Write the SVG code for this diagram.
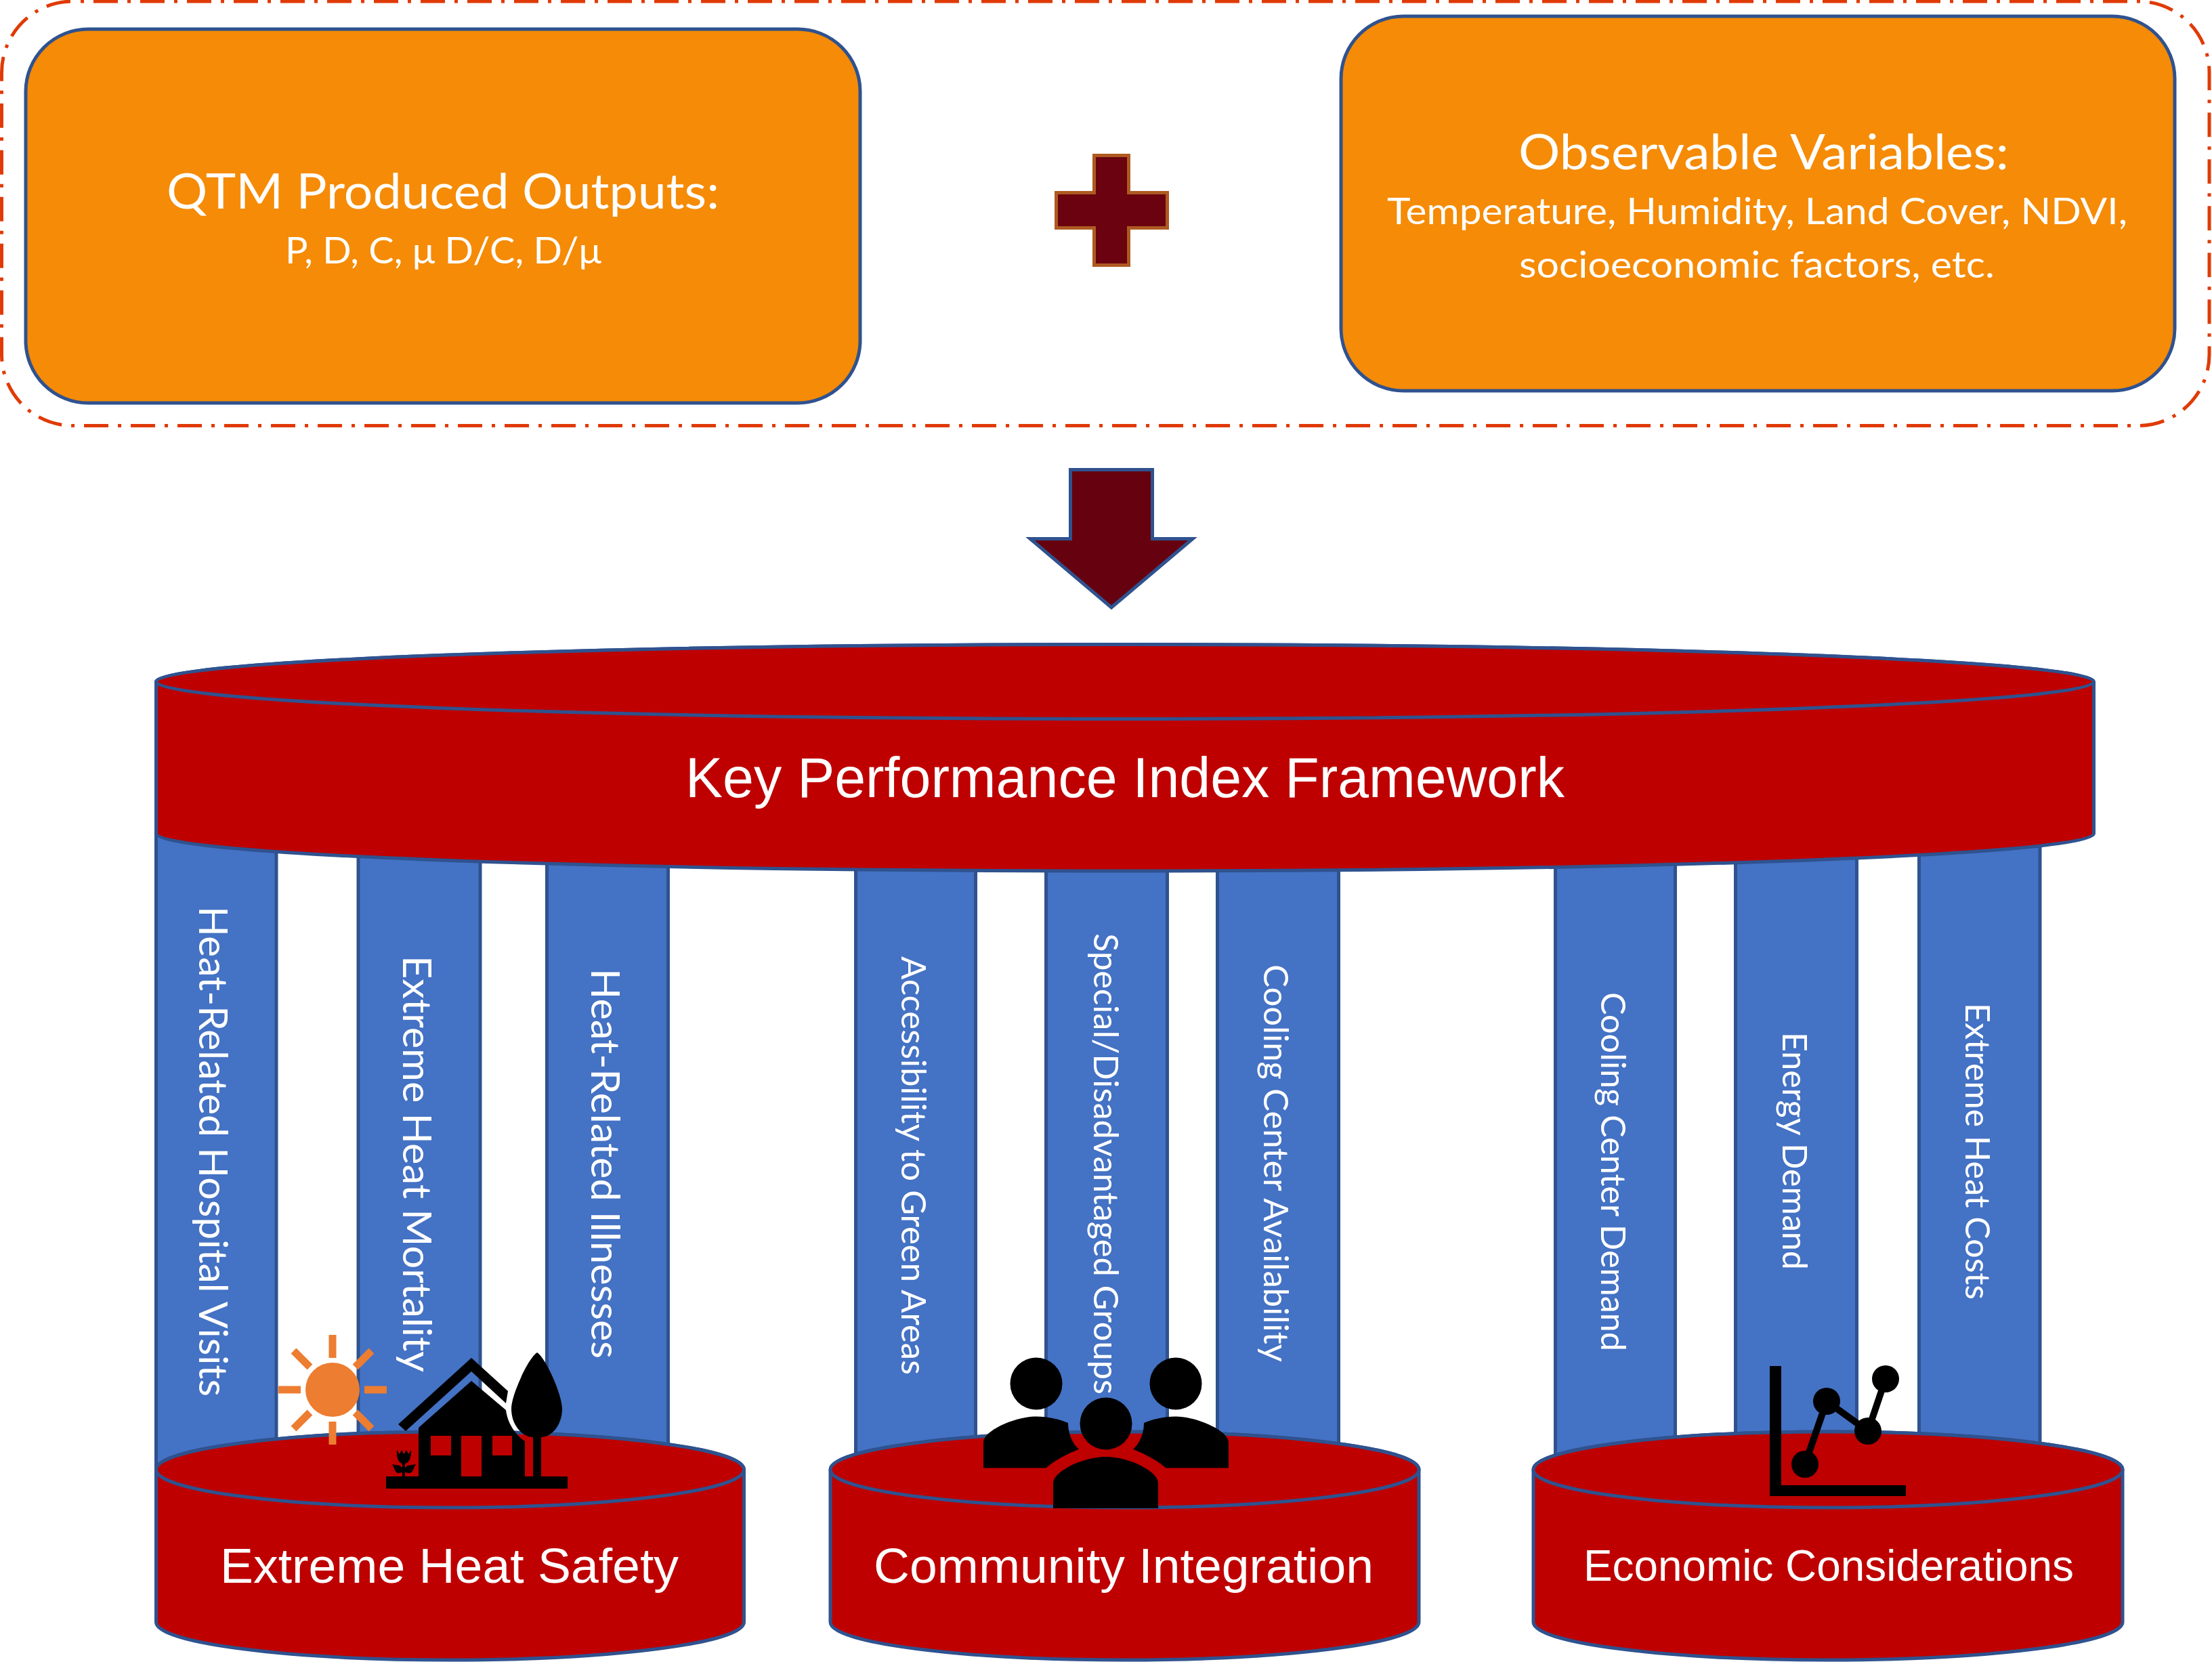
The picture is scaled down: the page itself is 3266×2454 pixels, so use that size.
<svg xmlns="http://www.w3.org/2000/svg" width="3266" height="2454" viewBox="0 0 3266 2454">
<style>
.box{fill:#F58B06;stroke:#2F528F;stroke-width:5}
.red{fill:#BE0000;stroke:#2F528F;stroke-width:5}
.pillar{fill:#4472C4;stroke:#2F528F;stroke-width:5}
.frame{fill:none;stroke:#E03A06;stroke-width:5;stroke-dasharray:36 14 5 14;stroke-dashoffset:38.5}
.c{font-family:"Lato","Noto Sans",sans-serif;fill:#fff}
.a{font-family:"Liberation Sans",Arial,sans-serif;fill:#fff}
.ray{stroke:#ED7D31;stroke-width:11;fill:none}
.k{fill:#000}
</style>
<rect width="3266" height="2454" fill="#fff"/>
<g id="outputs-frame"><rect class="frame" x="2.500" y="2" width="3259.500" height="626.500" rx="105" ry="105"/></g>
<g id="qtm-outputs">
<rect class="box" x="38" y="43" width="1232" height="552" rx="92" ry="92"/>
<text class="c" x="246" y="308" font-size="72" textLength="816" lengthAdjust="spacingAndGlyphs">QTM Produced Outputs:</text>
<text class="c" x="421" y="389" font-size="54" textLength="467" lengthAdjust="spacingAndGlyphs">P, D, C, μ D/C, D/μ</text>
</g>
<g id="plus"><path d="M1615.500 229.500H1666.500V284.500H1723.500V336.500H1666.500V391.500H1615.500V336.500H1559.500V284.500H1615.500Z" fill="#6A020F" stroke="#AE5A21" stroke-width="5"/></g>
<g id="observable-variables">
<rect class="box" x="1980" y="24" width="1231" height="553" rx="92" ry="92"/>
<text class="c" x="2242" y="250" font-size="72" textLength="724" lengthAdjust="spacingAndGlyphs">Observable Variables:</text>
<text class="c" x="2048" y="331" font-size="54" textLength="1093" lengthAdjust="spacingAndGlyphs">Temperature, Humidity, Land Cover, NDVI,</text>
<text class="c" x="2243" y="410" font-size="54" textLength="702" lengthAdjust="spacingAndGlyphs">socioeconomic factors, etc.</text>
</g>
<g id="connectors"><path d="M1580.500 693.500H1701.500V795.500H1761L1641 897 1521 795.500H1580.500Z" fill="#66020F" stroke="#2F528F" stroke-width="5"/></g>
<g id="pillars">
<g id="pillar-hospital-visits"><rect class="pillar" x="230.500" y="1200" width="177.500" height="1000"/><text class="c" transform="translate(293.500 1338) rotate(90)" font-size="58" textLength="724" lengthAdjust="spacingAndGlyphs">Heat-Related Hospital Visits</text></g>
<g id="pillar-mortality"><rect class="pillar" x="529" y="1200" width="180" height="1000"/><text class="c" transform="translate(595 1411) rotate(90)" font-size="58" textLength="615" lengthAdjust="spacingAndGlyphs">Extreme Heat Mortality</text></g>
<g id="pillar-illnesses"><rect class="pillar" x="807.500" y="1200" width="179" height="1000"/><text class="c" transform="translate(873 1430) rotate(90)" font-size="58" textLength="576" lengthAdjust="spacingAndGlyphs">Heat-Related Illnesses</text></g>
<g id="pillar-green-areas"><rect class="pillar" x="1263.500" y="1200" width="177" height="1000"/><text class="c" transform="translate(1331 1412) rotate(90)" font-size="51" textLength="618" lengthAdjust="spacingAndGlyphs">Accessibility to Green Areas</text></g>
<g id="pillar-groups"><rect class="pillar" x="1544.500" y="1200" width="179" height="1000"/><text class="c" transform="translate(1615 1378) rotate(90)" font-size="51" textLength="681" lengthAdjust="spacingAndGlyphs">Special/Disadvantaged Groups</text></g>
<g id="pillar-cooling-availability"><rect class="pillar" x="1797.500" y="1200" width="179" height="1000"/><text class="c" transform="translate(1866 1424) rotate(90)" font-size="51" textLength="587" lengthAdjust="spacingAndGlyphs">Cooling Center Availability</text></g>
<g id="pillar-cooling-demand"><rect class="pillar" x="2296.500" y="1200" width="177" height="1000"/><text class="c" transform="translate(2364 1465) rotate(90)" font-size="51" textLength="530" lengthAdjust="spacingAndGlyphs">Cooling Center Demand</text></g>
<g id="pillar-energy-demand"><rect class="pillar" x="2562.500" y="1200" width="179" height="1000"/><text class="c" transform="translate(2631.500 1524) rotate(90)" font-size="51" textLength="351" lengthAdjust="spacingAndGlyphs">Energy Demand</text></g>
<g id="pillar-heat-costs"><rect class="pillar" x="2833.500" y="1200" width="178.500" height="1000"/><text class="c" transform="translate(2902 1481) rotate(90)" font-size="51" textLength="438" lengthAdjust="spacingAndGlyphs">Extreme Heat Costs</text></g>
</g>
<g id="kpi-framework">
<path class="red" d="M230.500 1006.500A1430.500 55 0 0 1 3091.500 1006.500V1231A1430.500 55 0 0 1 230.500 1231Z"/>
<ellipse class="red" cx="1661" cy="1006.500" rx="1430.500" ry="55"/>
<text class="a" x="1012" y="1177" font-size="83" textLength="1298" lengthAdjust="spacingAndGlyphs">Key Performance Index Framework</text>
</g>
<g id="extreme-heat-safety">
<path class="red" d="M230.500 2170A434 56 0 0 1 1098.500 2170V2395A434 56 0 0 1 230.500 2395Z"/>
<ellipse class="red" cx="664.500" cy="2170" rx="434" ry="56"/>
<text class="a" x="325" y="2337" font-size="72" textLength="677" lengthAdjust="spacingAndGlyphs">Extreme Heat Safety</text>
<g id="sun-icon">
<circle cx="491" cy="2052" r="40" fill="#ED7D31"/>
<path class="ray" d="M491 1971V2005M491 2099V2133M411 2052H444M538 2052H571M433.500 1994.500L457.500 2018.500M548.500 1994.500L524.500 2018.500M433.500 2109.500L457.500 2085.500M548.500 2109.500L524.500 2085.500"/>
</g>
<g id="house-icon">
<path class="k" d="M696 2005L750 2054 747 2072 696 2025 599 2113 588 2103Z"/>
<path class="k" fill-rule="evenodd" d="M696 2039L747 2082C749 2100 760 2118 775 2128V2180H838V2198H570V2180H618V2108ZM636 2120V2149H666V2120ZM681 2120V2180H711V2120ZM727 2120V2149H756V2120Z"/>
<path class="k" d="M793 1997C780 2005 755 2060 755 2080C755 2105 772 2122 787 2122V2180H799V2122C814 2122 830 2105 830 2080C830 2060 806 2005 793 1997Z"/>
<path class="k" d="M586 2141L590 2147 593 2141 596.500 2147 600 2141 603 2147 607 2141C608 2152 603 2161 598 2161V2167L602 2164 614 2162C610 2168 610 2175 604 2175L598 2174V2180H594V2174L588 2175C583 2175 583 2168 579 2162L590 2164 594 2167V2161C589 2161 585 2152 586 2141Z"/>
</g>
</g>
<g id="community-integration">
<path class="red" d="M1226 2170A434.500 56 0 0 1 2095 2170V2395A434.500 56 0 0 1 1226 2395Z"/>
<ellipse class="red" cx="1660.500" cy="2170" rx="434.500" ry="56"/>
<text class="a" x="1290" y="2337" font-size="72" textLength="738" lengthAdjust="spacingAndGlyphs">Community Integration</text>
<g id="people-icon">
<circle class="k" cx="1530" cy="2043" r="38.500"/>
<circle class="k" cx="1736" cy="2043" r="38.500"/>
<circle class="k" cx="1633" cy="2102" r="38.500"/>
<path class="k" d="M1555 2227V2190C1555 2172 1600 2151 1633 2151C1666 2151 1710 2172 1710 2190V2227Z"/>
<path class="k" d="M1452 2167.500V2130C1452 2112 1500 2091.500 1530 2091.500C1548 2091.500 1566 2096 1577 2101C1577 2115 1582 2130 1593 2140C1572 2148 1552 2160 1545 2167.500Z"/>
<path class="k" d="M1814 2167.500V2130C1814 2112 1766 2091.500 1736 2091.500C1718 2091.500 1700 2096 1689 2101C1689 2115 1684 2130 1673 2140C1694 2148 1714 2160 1721 2167.500Z"/>
</g>
</g>
<g id="economic-considerations">
<path class="red" d="M2264 2170A435 56 0 0 1 3134 2170V2395A435 56 0 0 1 2264 2395Z"/>
<ellipse class="red" cx="2699" cy="2170" rx="435" ry="56"/>
<text class="a" x="2338" y="2334" font-size="64" textLength="724" lengthAdjust="spacingAndGlyphs">Economic Considerations</text>
<g id="chart-icon">
<path class="k" d="M2613 2017H2630V2193H2814V2209H2613Z"/>
<path d="M2665 2162L2697 2069 2758 2113 2784 2036" fill="none" stroke="#000" stroke-width="10"/>
<circle class="k" cx="2665" cy="2162" r="20"/>
<circle class="k" cx="2697" cy="2069" r="20"/>
<circle class="k" cx="2758" cy="2113" r="20"/>
<circle class="k" cx="2784" cy="2036" r="20"/>
</g>
</g>
</svg>
